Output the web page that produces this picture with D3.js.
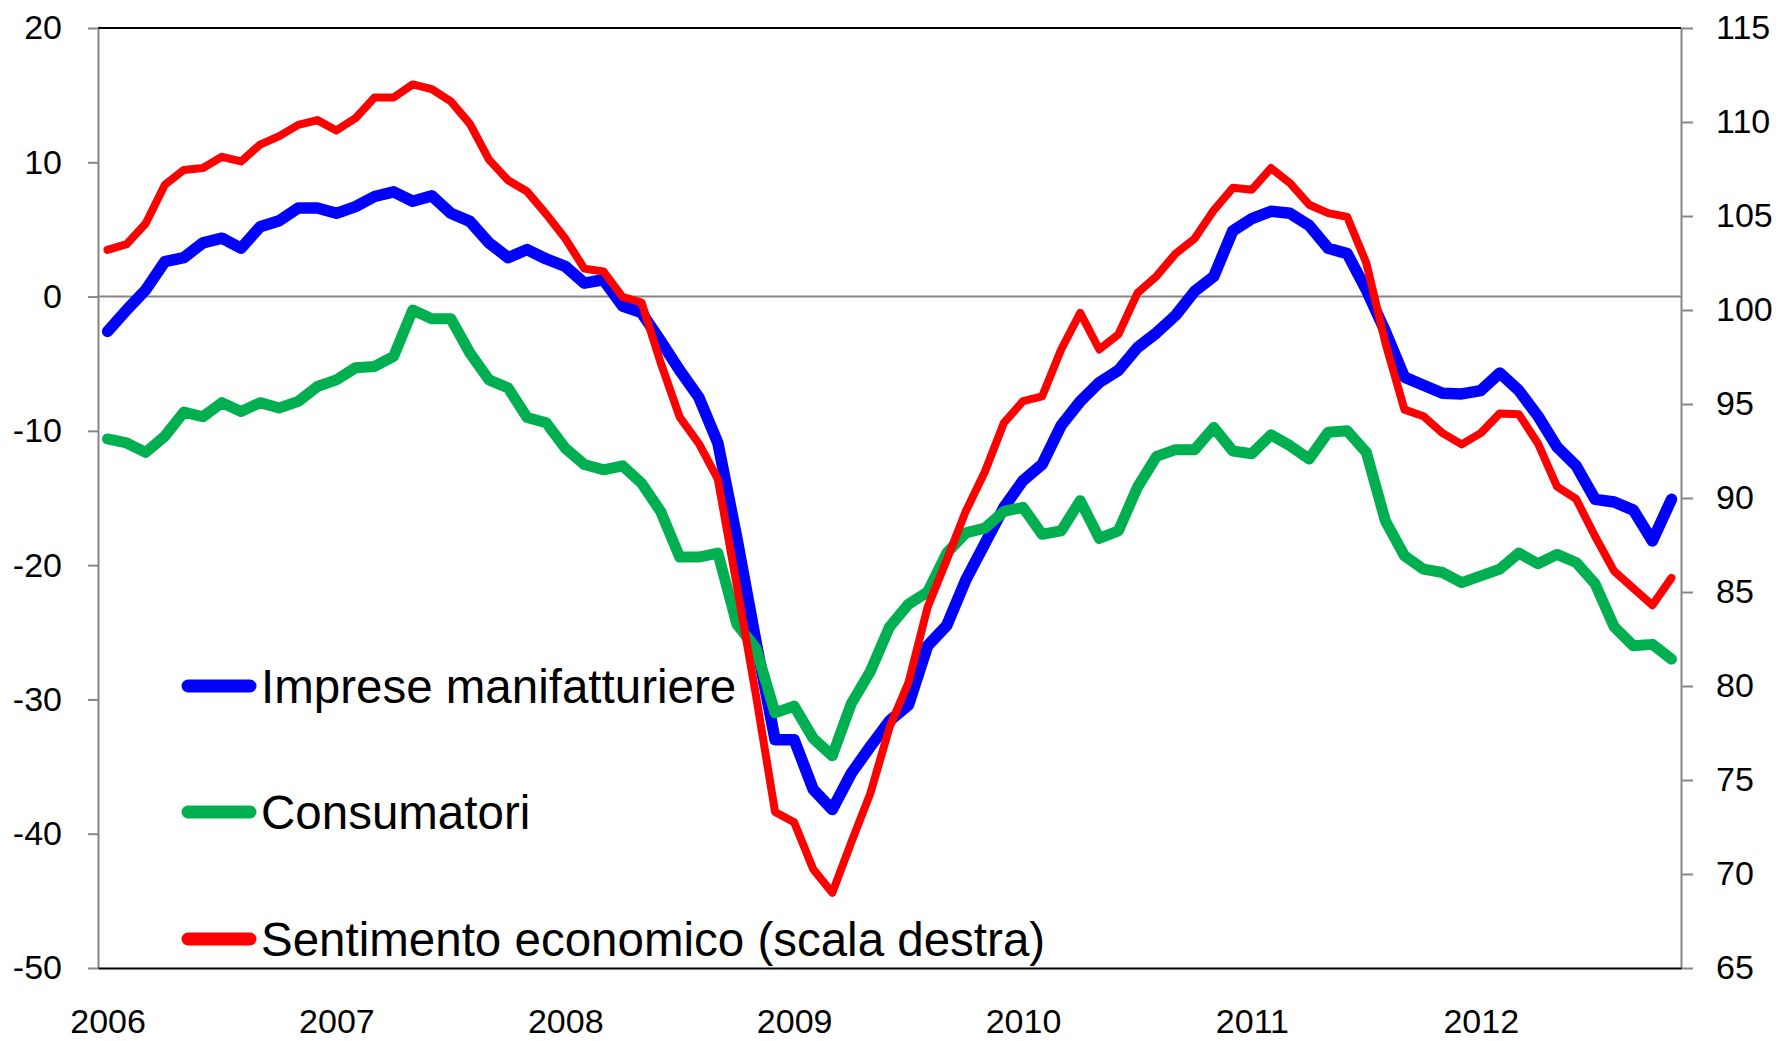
<!DOCTYPE html>
<html>
<head>
<meta charset="utf-8">
<script src="https://cdn.jsdelivr.net/npm/d3@7"></script>
<style>
  body { margin: 0; background: #fff; }
  svg { display: block; font-family: "Liberation Sans", Arial, sans-serif; }
</style>
</head>
<body>
<svg id="chart" width="1781" height="1041"></svg>
<script>
// monthly categories, Jan 2006 - Nov 2012
const months = d3.timeMonths(new Date(2006, 0, 1), new Date(2012, 11, 1));
const yearLabels = ["2006", "2007", "2008", "2009", "2010", "2011", "2012"];
const leftTicks = [-50, -40, -30, -20, -10, 0, 10, 20];
const rightTicks = [65, 70, 75, 80, 85, 90, 95, 100, 105, 110, 115];

// Imprese manifatturiere (scala sinistra)
const imprese = [
  -2.6, -1.0, 0.5, 2.6, 2.9, 4.0, 4.35, 3.6, 5.2, 5.65,
  6.6, 6.6, 6.2, 6.7, 7.45, 7.8, 7.1, 7.5, 6.2, 5.6,
  4.0, 2.9, 3.5, 2.8, 2.25, 1.0, 1.25, -0.7, -1.2, -3.3,
  -5.5, -7.5, -10.9, -18.0, -25.7, -33.0, -33.0, -36.7, -38.2, -35.5,
  -33.5, -31.6, -30.4, -26.0, -24.5, -21.1, -18.4, -15.7, -13.7, -12.5,
  -9.6, -7.8, -6.4, -5.5, -3.8, -2.7, -1.4, 0.4, 1.5, 4.9,
  5.8, 6.35, 6.2, 5.3, 3.6, 3.2, 0.5, -2.6, -6.0, -6.6,
  -7.2, -7.25, -7.0, -5.7, -7.0, -8.9, -11.2, -12.6, -15.1, -15.3,
  -15.9, -18.2, -15.1
];

// Consumatori (scala sinistra)
const consumatori = [
  -10.6, -10.9, -11.6, -10.4, -8.6, -8.95, -7.9, -8.55, -7.9, -8.3,
  -7.8, -6.7, -6.2, -5.3, -5.2, -4.45, -1.0, -1.65, -1.65, -4.2,
  -6.2, -6.8, -9.0, -9.4, -11.3, -12.5, -12.9, -12.6, -13.9, -16.0,
  -19.4, -19.4, -19.1, -24.4, -26.2, -31.0, -30.5, -32.9, -34.2, -30.3,
  -27.9, -24.6, -22.9, -22.0, -19.1, -17.6, -17.25, -16.0, -15.7, -17.7,
  -17.45, -15.2, -18.0, -17.45, -14.2, -11.9, -11.4, -11.4, -9.75, -11.5,
  -11.7, -10.3, -11.1, -12.1, -10.1, -10.0, -11.6, -16.7, -19.3, -20.3,
  -20.55, -21.3, -20.8, -20.3, -19.1, -19.9, -19.2, -19.8, -21.4, -24.6,
  -26.0, -25.9, -27.0
];

// Sentimento economico (scala destra)
const sentimento = [
  103.2, 103.5, 104.6, 106.65, 107.45, 107.55, 108.15, 107.9, 108.8, 109.25,
  109.85, 110.1, 109.55, 110.2, 111.3, 111.3, 112.0, 111.75, 111.1, 109.9,
  108.0, 106.9, 106.3, 105.1, 103.8, 102.2, 102.05, 100.7, 100.4, 97.2,
  94.3, 92.9, 91.0, 85.3, 79.5, 73.3, 72.75, 70.25, 69.0, 71.7,
  74.3, 77.8, 80.2, 84.2, 86.7, 89.3, 91.4, 94.0, 95.15, 95.4,
  97.9, 99.85, 97.9, 98.7, 100.9, 101.8, 103.0, 103.8, 105.3, 106.5,
  106.4, 107.55, 106.75, 105.6, 105.15, 104.95, 102.5, 98.25, 94.7, 94.35,
  93.45, 92.85, 93.45, 94.5, 94.45, 92.9, 90.6, 89.95, 87.95, 86.1,
  85.2, 84.3, 85.75
];

const seriesNames = ["Imprese manifatturiere", "Consumatori", "Sentimento economico (scala destra)"];
const seriesColors = ["#0000ff", "#00b050", "#ff0000"];

const svg = d3.select("#chart");
const plotLeft = 98, plotRight = 1681, plotTop = 28, plotBottom = 968;
const axisGrey = "#868686";

const x = d3.scalePoint().domain(d3.range(months.length)).range([plotLeft, plotRight]).padding(0.5);
const yL = d3.scaleLinear().domain([-50, 20]).range([plotBottom, plotTop]);
const yR = d3.scaleLinear().domain([65, 115]).range([plotBottom, plotTop]);

// top frame line
svg.append("line").attr("x1", plotLeft).attr("x2", plotRight).attr("y1", plotTop).attr("y2", plotTop)
  .attr("stroke", "#000").attr("stroke-width", 2);

// zero line
svg.append("line").attr("x1", plotLeft).attr("x2", plotRight).attr("y1", yL(0)).attr("y2", yL(0))
  .attr("stroke", axisGrey).attr("stroke-width", 2);

// left axis (plain hyphen for negatives, as in the original)
const gL = svg.append("g").attr("transform", `translate(${plotLeft},0)`)
  .call(d3.axisLeft(yL).tickValues(leftTicks).tickSize(10).tickPadding(26).tickSizeOuter(0)
    .tickFormat(d => String(d)));
gL.select(".domain").attr("stroke", axisGrey).attr("stroke-width", 2);
gL.selectAll(".tick line").attr("stroke", axisGrey).attr("stroke-width", 2);
gL.selectAll("text").attr("font-size", 34).attr("fill", "#000");
gL.attr("font-family", null).attr("font-size", null);

// right axis
const gR = svg.append("g").attr("transform", `translate(${plotRight},0)`)
  .call(d3.axisRight(yR).tickValues(rightTicks).tickSize(12).tickPadding(23).tickSizeOuter(0)
    .tickFormat(d => String(d)));
gR.select(".domain").attr("stroke", axisGrey).attr("stroke-width", 2);
gR.selectAll(".tick line").attr("stroke", axisGrey).attr("stroke-width", 2);
gR.selectAll("text").attr("font-size", 34).attr("fill", "#000");
gR.attr("font-family", null).attr("font-size", null);

// bottom axis: year labels at each January
const januaries = d3.range(0, months.length, 12);
const gB = svg.append("g").attr("transform", `translate(0,${plotBottom})`)
  .call(d3.axisBottom(x).tickValues(januaries).tickSize(0).tickSizeOuter(0)
    .tickFormat((d, i) => yearLabels[i]));
gB.select(".domain").attr("stroke", "#000").attr("stroke-width", 2);
gB.selectAll("text").attr("font-size", 34).attr("fill", "#000")
  .attr("dy", null).attr("y", 65);
gB.attr("font-family", null).attr("font-size", null);

// series
const lineL = d3.line().x((d, i) => x(i)).y(d => yL(d));
const lineR = d3.line().x((d, i) => x(i)).y(d => yR(d));

svg.append("path").datum(imprese).attr("d", lineL)
  .attr("fill", "none").attr("stroke", seriesColors[0]).attr("stroke-width", 11.5)
  .attr("stroke-linejoin", "round").attr("stroke-linecap", "round");
svg.append("path").datum(consumatori).attr("d", lineL)
  .attr("fill", "none").attr("stroke", seriesColors[1]).attr("stroke-width", 11)
  .attr("stroke-linejoin", "round").attr("stroke-linecap", "round");
svg.append("path").datum(sentimento).attr("d", lineR)
  .attr("fill", "none").attr("stroke", seriesColors[2]).attr("stroke-width", 8)
  .attr("stroke-linejoin", "round").attr("stroke-linecap", "round");

// legend
const legendY = [686, 812, 939];
const legend = svg.append("g").selectAll("g").data(seriesNames).join("g")
  .attr("transform", (d, i) => `translate(0,${legendY[i]})`);
legend.append("line").attr("x1", 188).attr("x2", 250).attr("y1", 0).attr("y2", 0)
  .attr("stroke", (d, i) => seriesColors[i]).attr("stroke-width", 13).attr("stroke-linecap", "round");
legend.append("text").attr("x", 261).attr("y", 17).attr("font-size", 47.5).attr("fill", "#000")
  .text(d => d);
</script>
</body>
</html>
